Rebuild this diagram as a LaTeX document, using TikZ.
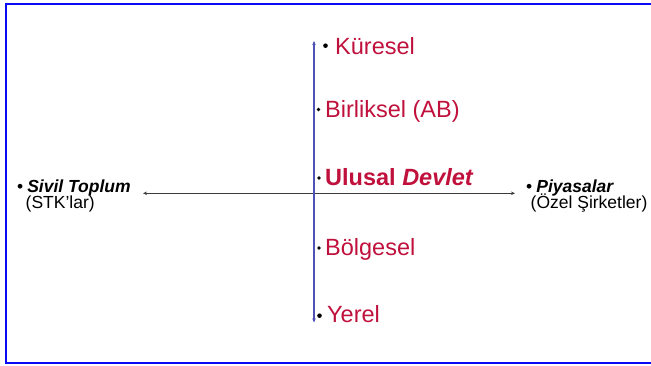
\documentclass[tikz,border=0pt]{standalone}
\usepackage{fontspec}
\setmainfont{Liberation Sans}
\usetikzlibrary{arrows.meta}
\definecolor{levelred}{RGB}{192,16,60}
\definecolor{axisblue}{RGB}{80,80,185}
\definecolor{axisgrey}{RGB}{60,60,60}
\definecolor{framebl}{RGB}{10,10,245}
\tikzset{
  level/.style={anchor=base west, inner sep=0pt, text=levelred, font=\fontsize{23.5}{26}\selectfont},
  actor/.style={anchor=base west, inner sep=0pt, text=black, font=\fontsize{17.5}{20}\selectfont},
  firstline/.style={actor, text depth=3pt},
  secondline/.style={actor, text height=12pt},
  dot/.style={circle, fill=black, inner sep=0pt, minimum size=#1},
  dot/.default=3.6pt,
  tip/.style={{Stealth[length=4pt,width=3.5pt]}-{Stealth[length=4pt,width=3.5pt]}}
}
\begin{document}
\begin{tikzpicture}[x=1pt,y=-1pt]
\useasboundingbox (0,0) rectangle (651,366);
% frame, open on the right
\draw[framebl, line width=2pt] (653,4.5) -- (5.5,4.5) -- (5.5,362.5) -- (653,362.5);

% axes
\coordinate (vtop) at (314,41);
\coordinate (vbot) at (314,322.5);
\coordinate (hleft) at (143,193.3);
\coordinate (hright) at (515,193.3);
\draw[axisgrey, line width=0.9pt, tip] (hleft) -- (hright);
\draw[axisblue, line width=1.5pt, tip] (vtop) -- (vbot);

% levels of governance along the vertical axis
\node[dot=4.6pt] (b1) at (325.5,45.7) {};
\node[level] (kuresel) at (335,54.3) {Küresel};
\node[dot] (b2) at (318.5,109.5) {};
\node[level] (birliksel) at (325,117.3) {Birliksel (AB)};
\node[dot] (b3) at (319,178) {};
\node[level, font=\fontsize{23.5}{26}\selectfont\bfseries] (ulusal) at (325,185.7) {Ulusal \textit{Devlet}};
\node[dot] (b4) at (319,248) {};
\node[level] (bolgesel) at (325,255.7) {Bölgesel};
\node[dot=4.6pt] (b5) at (319.5,315.7) {};
\node[level] (yerel) at (327,322.7) {Yerel};

% actors along the horizontal axis
\node[firstline] (sivil) at (17,192.3) {•\hspace{4pt}\textbf{\textit{Sivil Toplum}}};
\node[secondline] (stk) at (25.5,208.8) {(STK’lar)};
\node[firstline] (piyasa) at (526,192.3) {•\hspace{4pt}\textbf{\textit{Piyasalar}}};
\node[secondline] (ozel) at (530.5,208.8) {(Özel Şirketler)};
\end{tikzpicture}
\end{document}
